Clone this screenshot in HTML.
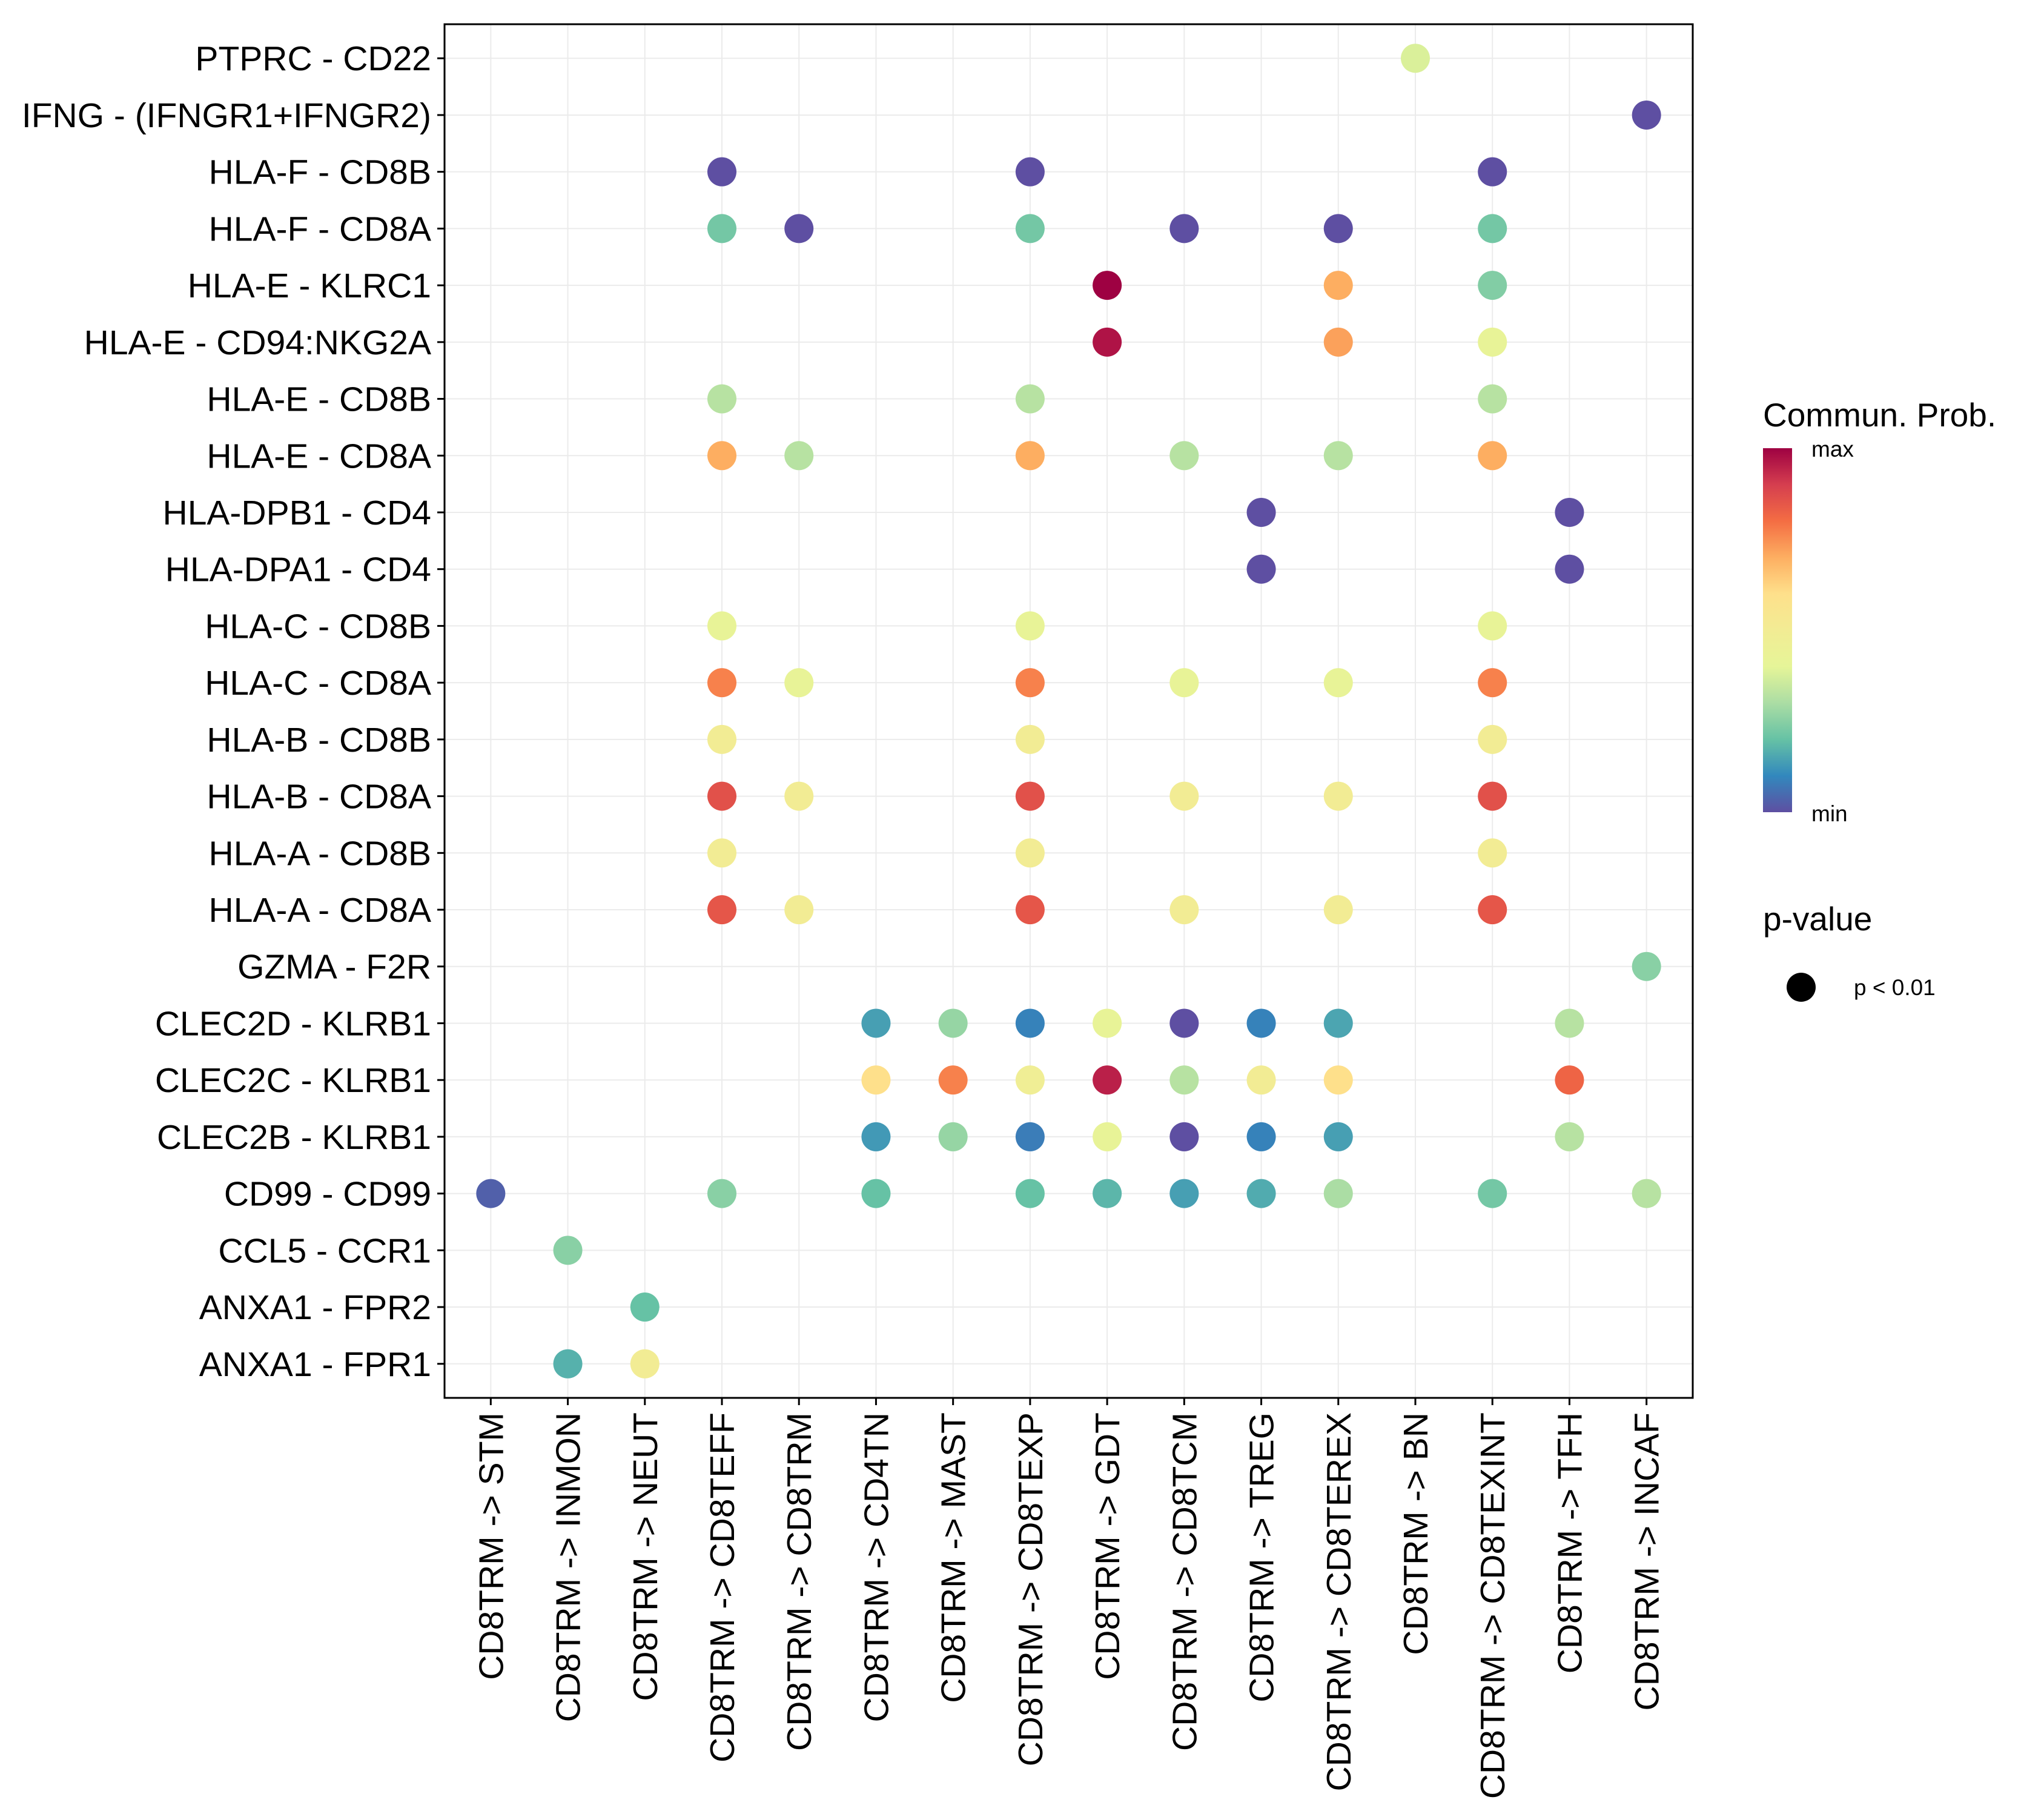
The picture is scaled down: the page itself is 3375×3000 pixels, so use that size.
<!DOCTYPE html>
<html><head><meta charset="utf-8"><style>
html,body{margin:0;padding:0;background:#fff;}
svg{display:block;font-family:"Liberation Sans",Arial,sans-serif;}
</style></head><body>
<svg id="chart" width="3375" height="3000" viewBox="0 0 3375 3000" xmlns="http://www.w3.org/2000/svg">
<defs><linearGradient id="spec" x1="0" y1="1" x2="0" y2="0">
<stop offset="0" stop-color="#5E4FA2"/><stop offset="0.1" stop-color="#3288BD"/><stop offset="0.2" stop-color="#66C2A5"/><stop offset="0.3" stop-color="#ABDDA4"/><stop offset="0.4" stop-color="#E6F598"/><stop offset="0.5" stop-color="#F2EC94"/><stop offset="0.6" stop-color="#FEE08B"/><stop offset="0.7" stop-color="#FDAE61"/><stop offset="0.8" stop-color="#F46D43"/><stop offset="0.9" stop-color="#D53E4F"/><stop offset="1" stop-color="#9E0142"/>
</linearGradient></defs>
<g id="grid"></g>
<g id="dots"></g>
<rect x="734" y="40" width="2061" height="2268" fill="none" stroke="#000" stroke-width="3"/>
<g id="yaxis"></g>
<g id="xaxis"></g>
<g>
<text x="2911" y="704" font-size="55">Commun. Prob.</text>
<rect x="2911" y="740" width="48" height="601" fill="url(#spec)"/>
<text x="2991" y="754" font-size="37">max</text>
<text x="2991" y="1356" font-size="37">min</text>
</g>
<g>
<text x="2911" y="1536" font-size="55">p-value</text>
<circle cx="2974" cy="1630" r="24" fill="#000"/>
<text x="3061" y="1643" font-size="37">p &lt; 0.01</text>
</g>
</svg>
<script>
const rowLabels = ["PTPRC - CD22","IFNG - (IFNGR1+IFNGR2)","HLA-F - CD8B","HLA-F - CD8A","HLA-E - KLRC1","HLA-E - CD94:NKG2A","HLA-E - CD8B","HLA-E - CD8A","HLA-DPB1 - CD4","HLA-DPA1 - CD4","HLA-C - CD8B","HLA-C - CD8A","HLA-B - CD8B","HLA-B - CD8A","HLA-A - CD8B","HLA-A - CD8A","GZMA - F2R","CLEC2D - KLRB1","CLEC2C - KLRB1","CLEC2B - KLRB1","CD99 - CD99","CCL5 - CCR1","ANXA1 - FPR2","ANXA1 - FPR1"];
const colLabels = ["CD8TRM -> STM","CD8TRM -> INMON","CD8TRM -> NEUT","CD8TRM -> CD8TEFF","CD8TRM -> CD8TRM","CD8TRM -> CD4TN","CD8TRM -> MAST","CD8TRM -> CD8TEXP","CD8TRM -> GDT","CD8TRM -> CD8TCM","CD8TRM -> TREG","CD8TRM -> CD8TEREX","CD8TRM -> BN","CD8TRM -> CD8TEXINT","CD8TRM -> TFH","CD8TRM -> INCAF"];
const dotRow = [0,1,2,2,2,3,3,3,3,3,3,4,4,4,5,5,5,6,6,6,7,7,7,7,7,7,8,8,9,9,10,10,10,11,11,11,11,11,11,12,12,12,13,13,13,13,13,13,14,14,14,15,15,15,15,15,15,16,17,17,17,17,17,17,17,17,18,18,18,18,18,18,18,18,19,19,19,19,19,19,19,19,20,20,20,20,20,20,20,20,20,20,21,22,23,23];
const dotCol = [12,15,3,7,13,3,4,7,9,11,13,8,11,13,8,11,13,3,7,13,3,4,7,9,11,13,10,14,10,14,3,7,13,3,4,7,9,11,13,3,7,13,3,4,7,9,11,13,3,7,13,3,4,7,9,11,13,15,5,6,7,8,9,10,11,14,5,6,7,8,9,10,11,14,5,6,7,8,9,10,11,14,0,3,5,7,8,9,10,11,13,15,1,2,1,2];
const dotValue = [0.38,0.0,0.0,0.0,0.0,0.22,0.0,0.22,0.0,0.0,0.22,1.0,0.7,0.24,0.97,0.72,0.42,0.32,0.32,0.32,0.7,0.32,0.7,0.32,0.32,0.7,0.0,0.0,0.0,0.0,0.42,0.42,0.42,0.77,0.42,0.77,0.42,0.42,0.77,0.5,0.5,0.5,0.86,0.5,0.86,0.5,0.5,0.86,0.5,0.5,0.5,0.85,0.5,0.85,0.5,0.5,0.85,0.25,0.14,0.27,0.09,0.42,0.0,0.09,0.15,0.32,0.6,0.77,0.48,0.95,0.32,0.5,0.6,0.82,0.13,0.27,0.08,0.42,0.0,0.09,0.14,0.32,0.03,0.25,0.2,0.2,0.18,0.14,0.16,0.3,0.22,0.32,0.25,0.2,0.17,0.5];

const NS="http://www.w3.org/2000/svg";
const PL=734,PR=2795,PT=40,PB=2308;
const xUnit=(PR-PL)/(colLabels.length-1+1.2), yUnit=(PB-PT)/(rowLabels.length-1+1.2);
function xScale(i){return PL+(0.6+i)*xUnit;}
function yScale(i){return PT+(0.6+i)*yUnit;}
const stops=["#5E4FA2","#3288BD","#66C2A5","#ABDDA4","#E6F598","#F2EC94","#FEE08B","#FDAE61","#F46D43","#D53E4F","#9E0142"];
function hex(h){return [1,3,5].map(k=>parseInt(h.substr(k,2),16));}
function color(v){v=Math.max(0,Math.min(1,v));const p=v*10,i=Math.min(9,Math.floor(p)),t=p-i;const a=hex(stops[i]),b=hex(stops[i+1]);return "rgb("+a.map((c,k)=>Math.round(c+(b[k]-c)*t)).join(",")+")";}
function mk(tag,attrs,parent){const e=document.createElementNS(NS,tag);for(const k in attrs)e.setAttribute(k,attrs[k]);parent.appendChild(e);return e;}
const grid=document.getElementById('grid'),dots=document.getElementById('dots'),ya=document.getElementById('yaxis'),xa=document.getElementById('xaxis');
rowLabels.forEach((lab,i)=>{
  const y=yScale(i);
  const g=mk('line',{x1:PL,x2:PR,y1:y,y2:y,stroke:"#ebebeb","stroke-width":2},grid);
  
  
  const tk=mk('line',{x1:PL-12,x2:PL,y1:y,y2:y,stroke:"#000","stroke-width":3},ya);
  
  
  const t=mk('text',{x:PL-22,y:y+20,"font-size":57,"text-anchor":"end"},ya);
  t.textContent=lab;
  
  
});
colLabels.forEach((lab,i)=>{
  const x=xScale(i);
  const g=mk('line',{x1:x,x2:x,y1:PT,y2:PB,stroke:"#ebebeb","stroke-width":2},grid);
  
  
  const tk=mk('line',{x1:x,x2:x,y1:PB,y2:PB+12,stroke:"#000","stroke-width":3},xa);
  
  
  const t=mk('text',{x:0,y:0,"font-size":57,"text-anchor":"end",transform:"translate("+(x+20)+","+(PB+24)+") rotate(-90)"},xa);
  t.textContent=lab;
  
  
});
dotValue.forEach((v,k)=>{
  const c=mk('circle',{cx:xScale(dotCol[k]),cy:yScale(dotRow[k]),r:24,fill:color(v)},dots);
  
  
});
</script>
</body></html>
